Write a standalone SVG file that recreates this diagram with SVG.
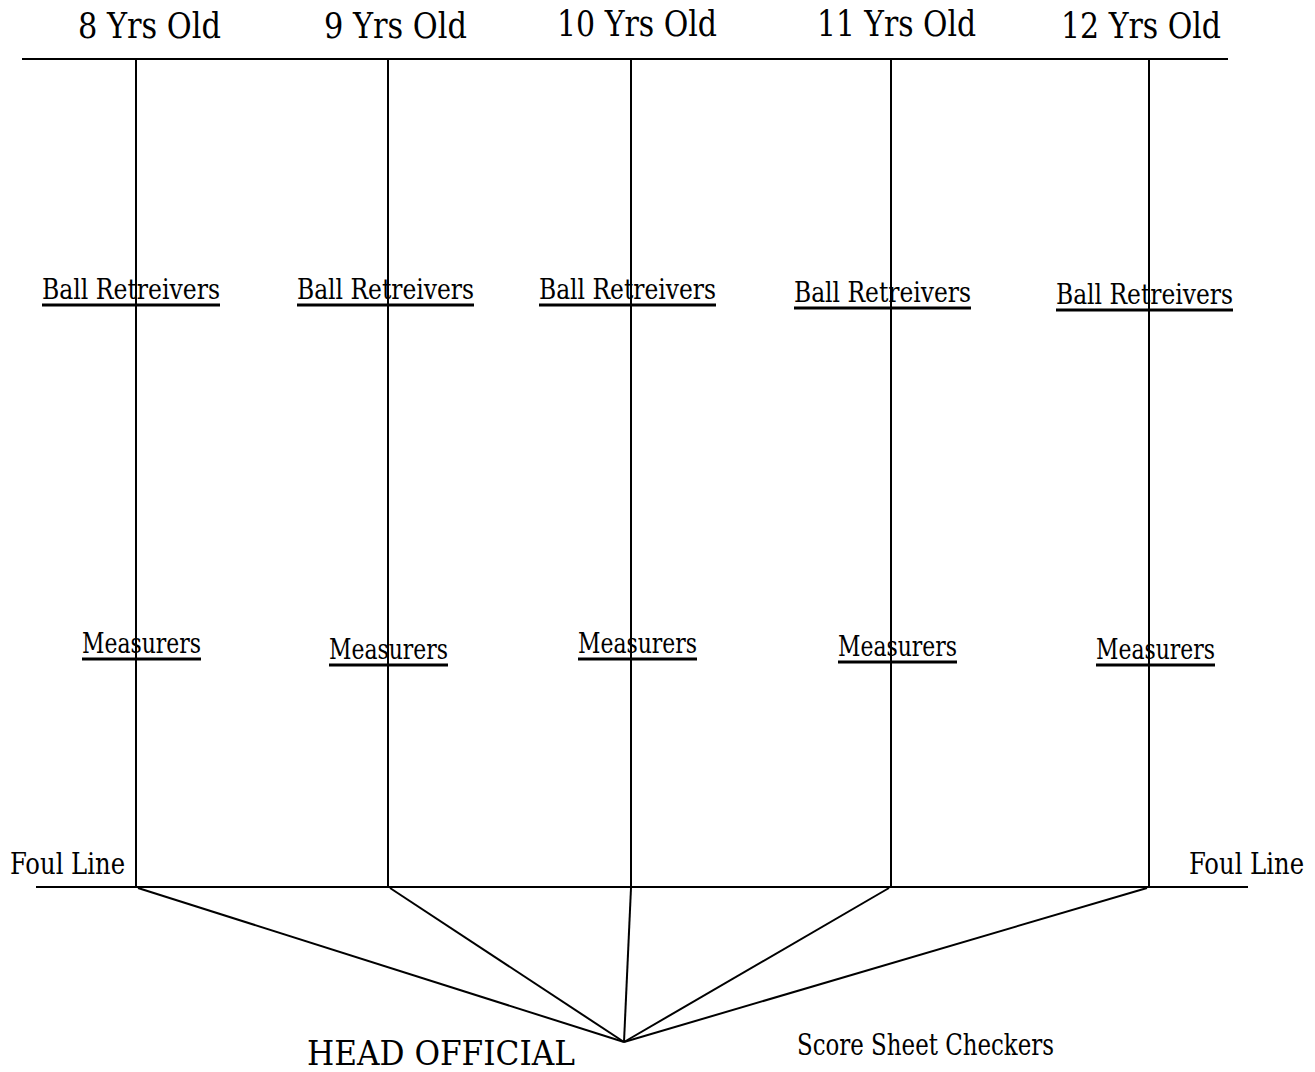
<svg xmlns="http://www.w3.org/2000/svg" width="1315" height="1072" viewBox="0 0 1315 1072">
<style>
.t{font-family:"DejaVu Serif Condensed","DejaVu Serif","Liberation Serif",serif;fill:#000}
.age{font-size:35px}
.lbl{font-size:27px}
.foul{font-size:29px}
.ln{stroke:#000;stroke-width:2;fill:none}
.ul{stroke:#000;stroke-width:3}
</style>
<rect width="1315" height="1072" fill="#fff"/>
<g id="connectors">
<line class="ln" x1="22" y1="59" x2="1228" y2="59"/>
<line class="ln" x1="36" y1="887" x2="1248" y2="887"/>
<line class="ln" x1="136" y1="59" x2="136" y2="887"/>
<line class="ln" x1="388" y1="59" x2="388" y2="887"/>
<line class="ln" x1="631" y1="59" x2="631" y2="887"/>
<line class="ln" x1="891" y1="59" x2="891" y2="887"/>
<line class="ln" x1="1149" y1="59" x2="1149" y2="887"/>
<line class="ln" x1="138" y1="888" x2="624" y2="1042"/>
<line class="ln" x1="390" y1="888" x2="624" y2="1042"/>
<line class="ln" x1="631" y1="888" x2="624" y2="1042"/>
<line class="ln" x1="889" y1="888" x2="624" y2="1042"/>
<line class="ln" x1="1147" y1="888" x2="624" y2="1042"/>
</g>
<g id="age8"><text class="t age" x="78" y="38" textLength="143" lengthAdjust="spacingAndGlyphs">8 Yrs Old</text></g>
<g id="age9"><text class="t age" x="324" y="38" textLength="143" lengthAdjust="spacingAndGlyphs">9 Yrs Old</text></g>
<g id="age10"><text class="t age" x="557" y="36" textLength="160" lengthAdjust="spacingAndGlyphs">10 Yrs Old</text></g>
<g id="age11"><text class="t age" x="817" y="36" textLength="159" lengthAdjust="spacingAndGlyphs">11 Yrs Old</text></g>
<g id="age12"><text class="t age" x="1061" y="38" textLength="160" lengthAdjust="spacingAndGlyphs">12 Yrs Old</text></g>
<g id="ball1"><text class="t lbl" x="42" y="299" textLength="178" lengthAdjust="spacingAndGlyphs">Ball Retreivers</text><line class="ul" x1="42" y1="305" x2="220" y2="305"/></g>
<g id="ball2"><text class="t lbl" x="297" y="299" textLength="177" lengthAdjust="spacingAndGlyphs">Ball Retreivers</text><line class="ul" x1="297" y1="305" x2="474" y2="305"/></g>
<g id="ball3"><text class="t lbl" x="539" y="299" textLength="177" lengthAdjust="spacingAndGlyphs">Ball Retreivers</text><line class="ul" x1="539" y1="305" x2="716" y2="305"/></g>
<g id="ball4"><text class="t lbl" x="794" y="302" textLength="177" lengthAdjust="spacingAndGlyphs">Ball Retreivers</text><line class="ul" x1="794" y1="308" x2="971" y2="308"/></g>
<g id="ball5"><text class="t lbl" x="1056" y="304" textLength="177" lengthAdjust="spacingAndGlyphs">Ball Retreivers</text><line class="ul" x1="1056" y1="310" x2="1233" y2="310"/></g>
<g id="meas1"><text class="t lbl" x="82" y="653" textLength="119" lengthAdjust="spacingAndGlyphs">Measurers</text><line class="ul" x1="82" y1="659" x2="201" y2="659"/></g>
<g id="meas2"><text class="t lbl" x="329" y="659" textLength="119" lengthAdjust="spacingAndGlyphs">Measurers</text><line class="ul" x1="329" y1="665" x2="448" y2="665"/></g>
<g id="meas3"><text class="t lbl" x="578" y="653" textLength="119" lengthAdjust="spacingAndGlyphs">Measurers</text><line class="ul" x1="578" y1="659" x2="697" y2="659"/></g>
<g id="meas4"><text class="t lbl" x="838" y="656" textLength="119" lengthAdjust="spacingAndGlyphs">Measurers</text><line class="ul" x1="838" y1="662" x2="957" y2="662"/></g>
<g id="meas5"><text class="t lbl" x="1096" y="659" textLength="119" lengthAdjust="spacingAndGlyphs">Measurers</text><line class="ul" x1="1096" y1="665" x2="1215" y2="665"/></g>
<g id="foul-left"><text class="t foul" x="10" y="874" textLength="115" lengthAdjust="spacingAndGlyphs">Foul Line</text></g>
<g id="foul-right"><text class="t foul" x="1189" y="874" textLength="115" lengthAdjust="spacingAndGlyphs">Foul Line</text></g>
<g id="head-official"><text class="t" style="font-size:34px" x="307" y="1065" textLength="268" lengthAdjust="spacingAndGlyphs">HEAD OFFICIAL</text></g>
<g id="score-sheet-checkers"><text class="t" style="font-size:29px" x="797" y="1055" textLength="257" lengthAdjust="spacingAndGlyphs">Score Sheet Checkers</text></g>
</svg>
